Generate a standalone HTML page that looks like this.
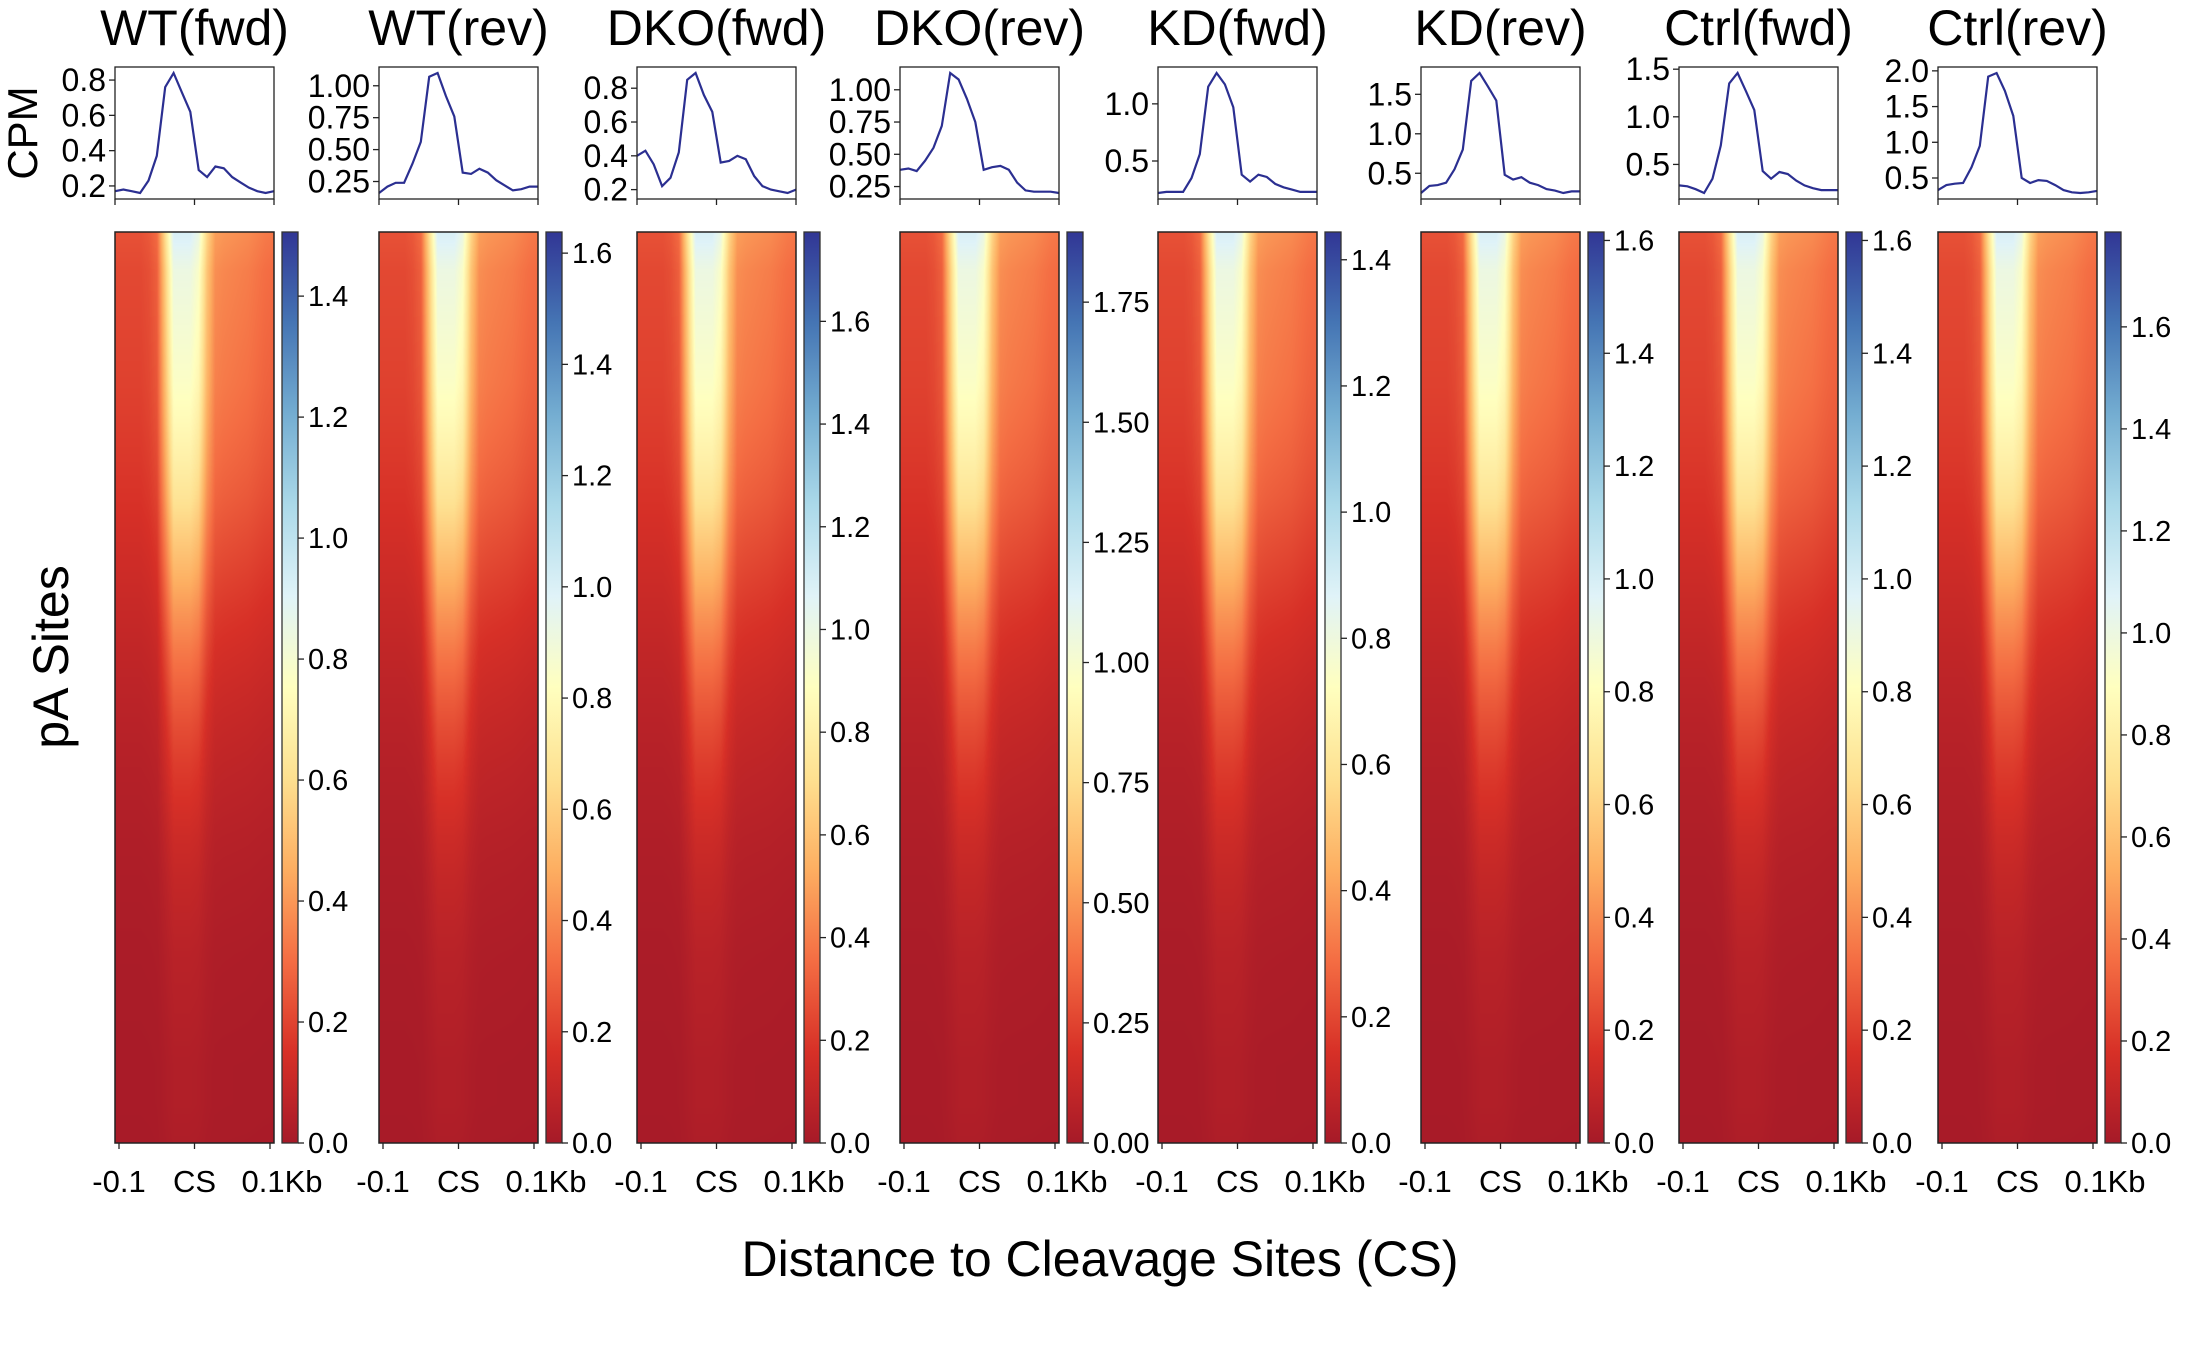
<!DOCTYPE html>
<html><head><meta charset="utf-8"><style>
html,body{margin:0;padding:0;background:#fff;}
#wrap{position:relative;width:2198px;height:1348px;overflow:hidden;font-family:"Liberation Sans",Arial,sans-serif;}
canvas{position:absolute;}
svg{position:absolute;left:0;top:0;}
</style></head><body>
<div id="wrap">
<svg id="svg" width="2198" height="1348" xmlns="http://www.w3.org/2000/svg"></svg>
</div>
<script>
// ---- data ----
const titles = ["WT(fwd)","WT(rev)","DKO(fwd)","DKO(rev)","KD(fwd)","KD(rev)","Ctrl(fwd)","Ctrl(rev)"];
const prof0 = [0.17,0.18,0.17,0.16,0.23,0.37,0.76,0.84,0.73,0.62,0.29,0.25,0.31,0.30,0.25,0.22,0.19,0.17,0.16,0.17];
const prof1 = [0.16,0.21,0.24,0.24,0.39,0.56,1.07,1.10,0.92,0.76,0.32,0.31,0.35,0.32,0.26,0.22,0.18,0.19,0.21,0.21];
const prof2 = [0.40,0.43,0.35,0.22,0.27,0.42,0.85,0.89,0.76,0.66,0.36,0.37,0.40,0.38,0.28,0.22,0.20,0.19,0.18,0.20];
const prof3 = [0.38,0.39,0.37,0.45,0.55,0.72,1.13,1.08,0.93,0.75,0.38,0.40,0.41,0.38,0.28,0.22,0.21,0.21,0.21,0.20];
const prof4 = [0.22,0.23,0.23,0.23,0.35,0.56,1.15,1.27,1.17,0.97,0.38,0.32,0.38,0.36,0.30,0.27,0.25,0.23,0.23,0.23];
const prof5 = [0.25,0.34,0.35,0.38,0.55,0.80,1.67,1.77,1.60,1.42,0.48,0.42,0.45,0.38,0.35,0.30,0.28,0.25,0.27,0.27];
const prof6 = [0.28,0.27,0.24,0.20,0.35,0.70,1.35,1.46,1.27,1.07,0.43,0.35,0.42,0.40,0.33,0.28,0.25,0.23,0.23,0.23];
const prof7 = [0.33,0.40,0.42,0.43,0.65,0.95,1.92,1.97,1.72,1.37,0.50,0.43,0.47,0.46,0.40,0.33,0.30,0.29,0.30,0.32];
const profiles = [prof0,prof1,prof2,prof3,prof4,prof5,prof6,prof7];
const lineTicks = [[0.2,0.4,0.6,0.8],[0.25,0.5,0.75,1.0],[0.2,0.4,0.6,0.8],[0.25,0.5,0.75,1.0],[0.5,1.0],[0.5,1.0,1.5],[0.5,1.0,1.5],[0.5,1.0,1.5,2.0]];
const lineTickDec = [1,2,1,2,1,1,1,1];
const cbMax = [1.506,1.638,1.774,1.896,1.444,1.615,1.615,1.786];
const cbStep = [0.2,0.2,0.2,0.25,0.2,0.2,0.2,0.2];
const cbDec = [1,1,1,2,1,1,1,1];
// heatmap: relative column shape and row (sorted pA sites) decay
const heatCols = [0.25,0.25,0.25,0.25,0.27,0.32,0.65,1.00,1.00,1.00,0.92,0.62,0.45,0.43,0.42,0.41,0.40,0.38,0.36,0.35];
const heatTop = [0.55,0.55,0.55,0.55,0.55,0.55,0.55,0.55];
const rowScale = [1.12,1.02,0.99,0.96,0.93,0.88,0.82,0.75,0.66,0.57,0.48,0.40,0.33,0.27,0.22,0.18,0.14,0.11,0.09,0.07,0.06,0.05,0.04,0.04,0.03];
const xTickLabels = ["-0.1","CS","0.1Kb"];
// ---- layout ----
const lefts = [115,379,637,900,1158,1421,1679,1938];
const W = 159, LT = 67, LB = 199, HT = 232, HB = 1143, CBOFF = 167, CBW = 16;
const svg = document.getElementById('svg');
const NS = "http://www.w3.org/2000/svg";
function el(tag, attrs, parent){const e=document.createElementNS(NS,tag);for(const k in attrs)e.setAttribute(k,attrs[k]);(parent||svg).appendChild(e);return e;}
const stops = [[0,[166,26,40]],[0.1,[215,48,39]],[0.2,[244,109,67]],[0.3,[253,174,97]],[0.4,[254,224,144]],[0.5,[255,255,191]],[0.6,[224,243,248]],[0.7,[171,217,233]],[0.8,[116,173,209]],[0.9,[69,117,180]],[1,[49,54,149]]];
function cmap(t){t=Math.max(0,Math.min(1,t));for(let i=1;i<stops.length;i++){if(t<=stops[i][0]){const a=stops[i-1],b=stops[i];const f=(t-a[0])/(b[0]-a[0]);return [0,1,2].map(k=>Math.round(a[1][k]+(b[1][k]-a[1][k])*f));}}return stops[stops.length-1][1];}
const defs = el('defs',{});
const grad = el('linearGradient',{id:'cbg',x1:0,y1:1,x2:0,y2:0},defs);
stops.forEach(s=>{el('stop',{offset:s[0],'stop-color':'rgb('+s[1].join(',')+')'},grad);});
function interp(arr,u){const p=u*(arr.length-1);const i=Math.min(arr.length-2,Math.floor(p));const f=p-i;return arr[i]*(1-f)+arr[i+1]*f;}

const wrap = document.getElementById('wrap');
profiles.forEach((prof,pi)=>{
  const L = lefts[pi];
  const g = el('g',{});
  
  
  const t = el('text',{x:L+W/2,y:45,'font-size':50,'text-anchor':'middle',fill:'#000'},g);
  t.textContent = titles[pi];
  
  
  // line plot
  const mn = Math.min(...prof), mx = Math.max(...prof), pad = (mx-mn)*0.05;
  const y0 = mn-pad, y1 = mx+pad;
  const ys = v => LB - (v-y0)/(y1-y0)*(LB-LT);
  const xs = i => L + i/(prof.length-1)*W;
  const pts = prof.map((v,i)=>xs(i).toFixed(1)+','+ys(v).toFixed(1)).join(' ');
  const pl = el('polyline',{points:pts,fill:'none',stroke:'#2b2f91','stroke-width':2.2},g);
  
  
  const box = el('rect',{x:L,y:LT,width:W,height:LB-LT,fill:'none',stroke:'#222','stroke-width':1.3},g);
  
  
  [0,0.5,1].forEach(f=>el('line',{x1:L+f*W,x2:L+f*W,y1:LB,y2:LB+6,stroke:'#222','stroke-width':1.3},g));
  lineTicks[pi].forEach(v=>{
    const y = ys(v);
    el('line',{x1:L-6,x2:L,y1:y,y2:y,stroke:'#222','stroke-width':1.3},g);
    const tt = el('text',{x:L-9,y:y+11,'font-size':32,'text-anchor':'end',fill:'#000'},g);
    tt.textContent = v.toFixed(lineTickDec[pi]);
    
    
  });
  // heatmap
  const c = document.createElement('canvas');
  c.width = W; c.height = HB-HT;
  c.style.left = L+'px'; c.style.top = HT+'px';
  
  
  wrap.insertBefore(c, svg);
  const ctx = c.getContext('2d');
  const img = ctx.createImageData(W, HB-HT);
  for(let y=0;y<HB-HT;y++){
    const rs = interp(rowScale, y/(HB-HT-1));
    for(let x=0;x<W;x++){
      const v = interp(heatCols, x/(W-1))*rs*heatTop[pi];
      const col = cmap(v);
      const o = (y*W+x)*4;
      img.data[o]=col[0];img.data[o+1]=col[1];img.data[o+2]=col[2];img.data[o+3]=255;
    }
  }
  ctx.putImageData(img,0,0);
  el('rect',{x:L,y:HT,width:W,height:HB-HT,fill:'none',stroke:'#222','stroke-width':1.5},g);
  [4,W/2,W-4].forEach((dx,k)=>{
    el('line',{x1:L+dx,x2:L+dx,y1:HB,y2:HB+6,stroke:'#222','stroke-width':1.3},g);
    const xl = el('text',{x:L+dx+(k===2?12:0),y:1192,'font-size':31,'text-anchor':'middle',fill:'#000'},g);
    xl.textContent = xTickLabels[k];
    
    
  });
  // colorbar
  const CX = L+CBOFF;
  const cb = el('rect',{x:CX,y:HT,width:CBW,height:HB-HT,fill:'url(#cbg)',stroke:'#333','stroke-width':1.3},g);
  
  
  const n = Math.floor(cbMax[pi]/cbStep[pi]+1e-6);
  for(let k=0;k<=n;k++){
    const v = k*cbStep[pi];
    const y = HB - v/cbMax[pi]*(HB-HT);
    el('line',{x1:CX+CBW,x2:CX+CBW+6,y1:y,y2:y,stroke:'#222','stroke-width':1.3},g);
    const ct = el('text',{x:CX+CBW+10,y:y+10,'font-size':29,fill:'#000'},g);
    ct.textContent = v.toFixed(cbDec[pi]);
    
    
  }
});
const cpm = el('text',{x:0,y:0,'font-size':42,'text-anchor':'middle',transform:'translate(37,133) rotate(-90)',fill:'#000'});
cpm.textContent='CPM';


const pa = el('text',{x:0,y:0,'font-size':50,'text-anchor':'middle',transform:'translate(68,657) rotate(-90)',fill:'#000'});
pa.textContent='pA Sites';


const xt = el('text',{x:1100,y:1276,'font-size':50,'text-anchor':'middle',fill:'#000'});
xt.textContent='Distance to Cleavage Sites (CS)';


</script>
</body></html>
